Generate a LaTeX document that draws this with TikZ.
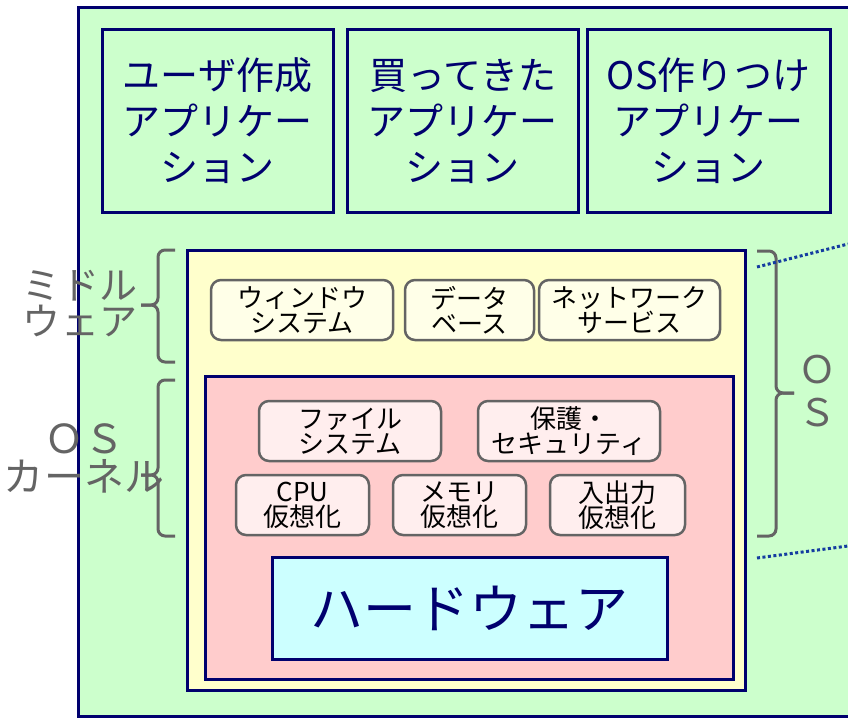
\documentclass[tikz,border=0pt]{standalone}
\usepackage{fontspec}
\setmainfont{Noto Sans CJK JP}
\definecolor{navy}{RGB}{0,0,110}
\definecolor{greenbg}{RGB}{204,255,204}
\definecolor{yellowbg}{RGB}{255,255,204}
\definecolor{pinkbg}{RGB}{255,204,204}
\definecolor{cyanbg}{RGB}{204,255,255}
\definecolor{mwfill}{RGB}{255,255,232}
\definecolor{krfill}{RGB}{255,238,238}
\definecolor{labelgray}{RGB}{100,100,100}
\definecolor{dotblue}{RGB}{20,60,160}

\begin{document}
\begin{tikzpicture}[x=1pt, y=-1pt,
    layer/.style={draw=navy, line width=3pt, minimum width=#1},
    appbox/.style={layer=231pt, fill=greenbg, minimum height=183pt, text=navy,
      align=center, font=\fontsize{38}{46}\selectfont},
    service/.style={draw=labelgray, line width=2.5pt, rounded corners=10pt,
      minimum width=#1, minimum height=60pt, align=center,
      font=\fontsize{26}{25}\selectfont, inner sep=0pt},
    mwbox/.style={service=#1, fill=mwfill},
    krbox/.style={service=#1, fill=krfill},
    sidelabel/.style={text=labelgray, align=center, font=\fontsize{38}{36}\selectfont},
    bracket/.style={draw=labelgray, line width=3pt, rounded corners=7pt},
    guide/.style={draw=dotblue, line width=3pt, dash pattern=on 3pt off 2.5pt}]
  \useasboundingbox (0,0) rectangle (848,717);

  % outer frame
  \node[layer=800pt, fill=greenbg, minimum height=708pt] (frame) at (478,362) {};

  % applications
  \node[appbox] (userapp) at (217.5,121) {ユーザ作成\\アプリケー\\ション};
  \node[appbox] (boughtapp) at (462.5,121) {買ってきた\\アプリケー\\ション};
  \node[appbox, minimum width=243pt] (osapp) at (708.5,121) {OS作りつけ\\アプリケー\\ション};

  % middleware layer
  \node[layer=558pt, fill=yellowbg, minimum height=440pt] (middle) at (466,470) {};
  \node[mwbox=182pt] (window) at (302,310) {ウィンドウ\\システム};
  \node[mwbox=129pt] (database) at (469.5,310) {データ\\ベース};
  \node[mwbox=181pt] (network) at (629.5,310) {ネットワーク\\サービス};

  % kernel layer
  \node[layer=528pt, fill=pinkbg, minimum height=303pt] (kernel) at (469,527.5) {};
  \node[krbox=182pt] (filesys) at (350,431) {ファイル\\システム};
  \node[krbox=182pt] (security) at (569,431) {保護・\\セキュリティ};
  \node[krbox=133pt] (cpu) at (302.5,505) {CPU\\仮想化};
  \node[krbox=133pt] (memory) at (459.5,505) {メモリ\\仮想化};
  \node[krbox=135pt] (io) at (617.5,505) {入出力\\仮想化};

  % hardware
  \node[layer=395pt, fill=cyanbg, minimum height=102pt, text=navy,
    font=\fontsize{53}{53}\selectfont] (hardware) at (469.5,608) {ハードウェア};

  % braces
  \draw[bracket] (175,250) -- (158,250) -- (158,305) -- (141,305);
  \draw[bracket] (141,305) -- (158,305) -- (158,362) -- (175,362);
  \draw[bracket] (175,380) -- (158,380) -- (158,475) -- (141,475);
  \draw[bracket] (141,475) -- (158,475) -- (158,536) -- (175,536);
  \draw[bracket] (757,251) -- (776,251) -- (776,393) -- (794,393);
  \draw[bracket] (794,393) -- (776,393) -- (776,536) -- (757,536);

  % side labels
  \node[sidelabel] (mwlabel) at (80,304) {ミドル\\ウェア};
  \node[sidelabel, font=\fontsize{40}{38}\selectfont] (krlabel) at (84,458) {ＯＳ\\カーネル};
  \node[sidelabel, font=\fontsize{38}{43}\selectfont] (oslabel) at (817,391) {Ｏ\\Ｓ};

  % dotted guides
  \coordinate (guideA) at (848,244);
  \coordinate (guideB) at (848,546);
  \draw[guide] (757,267) -- (guideA);
  \draw[guide] (757,558) -- (guideB);
\end{tikzpicture}
\end{document}
